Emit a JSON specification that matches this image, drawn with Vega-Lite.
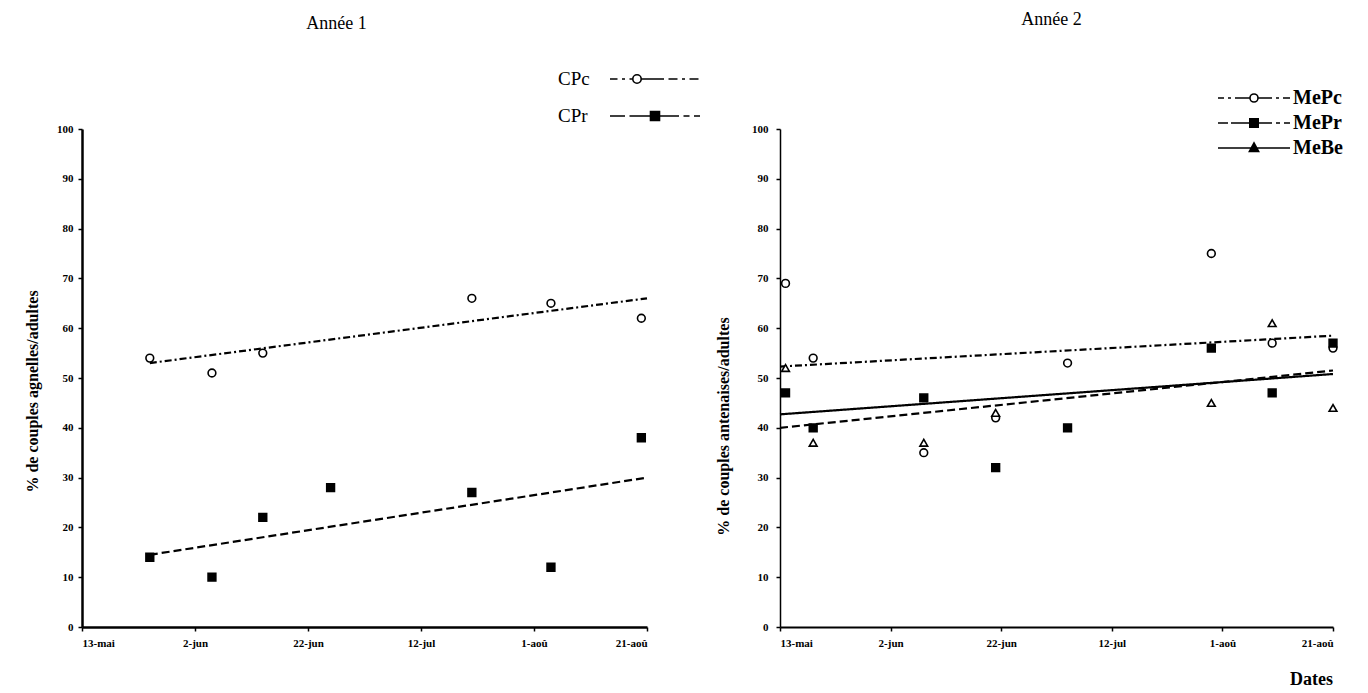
{
  "$schema": "https://vega.github.io/schema/vega-lite/v6.json",
  "background": "white",
  "padding": {"left": 24, "top": 11, "right": 5, "bottom": 5},
  "spacing": 133,
  "bounds": "flush",
  "resolve": {
    "scale": {"x": "independent", "y": "independent", "shape": "independent", "fill": "independent"},
    "legend": {"shape": "independent", "fill": "independent"}
  },
  "config": {
    "view": {"stroke": null},
    "font": "Liberation Serif",
    "axis": {
      "grid": false,
      "domainColor": "black",
      "tickColor": "black",
      "labelColor": "black",
      "titleColor": "black",
      "labelFont": "Liberation Serif",
      "labelFontWeight": "bold",
      "labelFontSize": 11,
      "titleFont": "Liberation Serif",
      "titleFontWeight": "bold",
      "titleFontSize": 16,
      "tickSize": 4,
      "tickWidth": 1.5,
      "domainWidth": 2
    },
    "title": {"font": "Liberation Serif", "fontWeight": "normal", "fontSize": 18, "color": "black"}
  },
  "datasets": {
    "points1": [
      {"serie": "CPc", "date": "2001-05-25", "valeur": 54},
      {"serie": "CPc", "date": "2001-06-05", "valeur": 51},
      {"serie": "CPc", "date": "2001-06-14", "valeur": 55},
      {"serie": "CPc", "date": "2001-07-21", "valeur": 66},
      {"serie": "CPc", "date": "2001-08-04", "valeur": 65},
      {"serie": "CPc", "date": "2001-08-20", "valeur": 62},
      {"serie": "CPr", "date": "2001-05-25", "valeur": 14},
      {"serie": "CPr", "date": "2001-06-05", "valeur": 10},
      {"serie": "CPr", "date": "2001-06-14", "valeur": 22},
      {"serie": "CPr", "date": "2001-06-26", "valeur": 28},
      {"serie": "CPr", "date": "2001-07-21", "valeur": 27},
      {"serie": "CPr", "date": "2001-08-04", "valeur": 12},
      {"serie": "CPr", "date": "2001-08-20", "valeur": 38}
    ],
    "lignes1": [
      {"serie": "CPc", "date": "2001-05-25", "valeur": 53},
      {"serie": "CPc", "date": "2001-08-21", "valeur": 66},
      {"serie": "CPr", "date": "2001-05-25", "valeur": 14.5},
      {"serie": "CPr", "date": "2001-08-21", "valeur": 30}
    ],
    "points2": [
      {"serie": "MePc", "date": "2001-05-14", "valeur": 69},
      {"serie": "MePc", "date": "2001-05-19", "valeur": 54},
      {"serie": "MePc", "date": "2001-06-08", "valeur": 35},
      {"serie": "MePc", "date": "2001-06-21", "valeur": 42},
      {"serie": "MePc", "date": "2001-07-04", "valeur": 53},
      {"serie": "MePc", "date": "2001-07-30", "valeur": 75},
      {"serie": "MePc", "date": "2001-08-10", "valeur": 57},
      {"serie": "MePc", "date": "2001-08-21", "valeur": 56},
      {"serie": "MePr", "date": "2001-05-14", "valeur": 47},
      {"serie": "MePr", "date": "2001-05-19", "valeur": 40},
      {"serie": "MePr", "date": "2001-06-08", "valeur": 46},
      {"serie": "MePr", "date": "2001-06-21", "valeur": 32},
      {"serie": "MePr", "date": "2001-07-04", "valeur": 40},
      {"serie": "MePr", "date": "2001-07-30", "valeur": 56},
      {"serie": "MePr", "date": "2001-08-10", "valeur": 47},
      {"serie": "MePr", "date": "2001-08-21", "valeur": 57},
      {"serie": "MeBe", "date": "2001-05-14", "valeur": 52},
      {"serie": "MeBe", "date": "2001-05-19", "valeur": 37},
      {"serie": "MeBe", "date": "2001-06-08", "valeur": 37},
      {"serie": "MeBe", "date": "2001-06-21", "valeur": 43},
      {"serie": "MeBe", "date": "2001-07-30", "valeur": 45},
      {"serie": "MeBe", "date": "2001-08-10", "valeur": 61},
      {"serie": "MeBe", "date": "2001-08-21", "valeur": 44}
    ],
    "lignes2": [
      {"serie": "MePc", "date": "2001-05-13", "valeur": 52.3},
      {"serie": "MePc", "date": "2001-08-21", "valeur": 58.5},
      {"serie": "MePr", "date": "2001-05-13", "valeur": 40},
      {"serie": "MePr", "date": "2001-08-21", "valeur": 51.5},
      {"serie": "MeBe", "date": "2001-05-13", "valeur": 42.7},
      {"serie": "MeBe", "date": "2001-08-21", "valeur": 50.8}
    ]
  },
  "hconcat": [
    {
      "width": 565,
      "height": 498,
      "title": {"text": "Année 1", "frame": "group", "dx": -28, "offset": 30},
      "layer": [
        {
          "data": {"name": "lignes1"},
          "mark": {"type": "line", "color": "black", "strokeWidth": 2.2},
          "encoding": {
            "x": {"field": "date", "type": "temporal",
              "scale": {"type": "utc", "nice": false, "domain": [{"year": 2001, "month": 5, "date": 13, "utc": true}, {"year": 2001, "month": 8, "date": 21, "utc": true}]},
              "axis": {"title": null, "domainWidth": 2.5, "labelPadding": 6,
                "values": [{"year": 2001, "month": 5, "date": 13, "utc": true}, {"year": 2001, "month": 6, "date": 2, "utc": true}, {"year": 2001, "month": 6, "date": 22, "utc": true}, {"year": 2001, "month": 7, "date": 12, "utc": true}, {"year": 2001, "month": 8, "date": 1, "utc": true}, {"year": 2001, "month": 8, "date": 21, "utc": true}],
                "labelExpr": "utcdate(datum.value) + '-' + ['jan','fév','mar','avr','mai','jun','jul','aoû','sep','oct','nov','déc'][utcmonth(datum.value)]"}},
            "y": {"field": "valeur", "type": "quantitative",
              "scale": {"domain": [0, 100], "nice": false},
              "axis": {"title": "% de couples agnelles/adultes", "values": [0, 10, 20, 30, 40, 50, 60, 70, 80, 90, 100], "domainWidth": 2.5, "labelPadding": 5, "titlePadding": 16, "titleY": 262}},
            "detail": {"field": "serie", "type": "nominal"},
            "strokeDash": {"condition": {"test": "datum.serie === 'CPr'", "value": [8, 4]}, "value": [7, 3, 2, 3]}
          }
        },
        {
          "data": {"name": "points1"},
          "mark": {"type": "point", "filled": true, "size": 60, "stroke": "black", "strokeWidth": 1.6, "opacity": 1},
          "encoding": {
            "x": {"field": "date", "type": "temporal"},
            "y": {"field": "valeur", "type": "quantitative"},
            "fill": {"condition": {"test": "datum.serie === 'CPr'", "value": "black"}, "value": "white"},
            "shape": {"condition": {"test": "datum.serie === 'CPr'", "value": "square"}, "value": "circle"}
          }
        },
        {
          "data": {"name": "points1"},
          "transform": [{"filter": "false"}],
          "mark": {"type": "point", "filled": true, "stroke": "black", "strokeWidth": 1.6, "opacity": 1},
          "encoding": {
            "x": {"field": "date", "type": "temporal"},
            "y": {"field": "valeur", "type": "quantitative"},
            "shape": {"field": "serie", "type": "nominal",
              "scale": {"domain": ["CPc", "CPr"], "range": ["M-3,0H-2.5M-2.2,0H-2M-1.7,0H-1.48M-0.92,0H0.6M0.9,0H1.5M1.8,0H2M2.3,0H2.9M-0.92,0A0.28,0.28 0 1,0 -1.48,0A0.28,0.28 0 1,0 -0.92,0", "M-3,0H-2M-1.7,0H-0.3M0.3,0H1.6M1.9,0H2.3M2.6,0H3M-0.3,-0.3H0.3V0.3H-0.3Z"]},
              "legend": {"title": null, "orient": "none", "legendX": 557, "legendY": -66, "padding": 0, "symbolSize": 900, "rowPadding": 11, "labelOffset": -113, "labelFont": "Liberation Serif", "labelFontSize": 19, "labelColor": "black", "symbolStrokeWidth": 1.6}},
            "fill": {"field": "serie", "type": "nominal",
              "scale": {"domain": ["CPc", "CPr"], "range": ["white", "black"]},
              "legend": {"title": null, "orient": "none", "legendX": 557, "legendY": -66, "padding": 0, "symbolSize": 900, "rowPadding": 11, "labelOffset": -113, "labelFont": "Liberation Serif", "labelFontSize": 19, "labelColor": "black", "symbolStrokeWidth": 1.6}}
          }
        }
      ]
    },
    {
      "width": 553,
      "height": 498,
      "title": {"text": "Année 2", "frame": "group", "dx": -5, "offset": 58},
      "layer": [
        {
          "data": {"name": "lignes2"},
          "mark": {"type": "line", "color": "black", "strokeWidth": 2.2},
          "encoding": {
            "x": {"field": "date", "type": "temporal",
              "scale": {"type": "utc", "nice": false, "domain": [{"year": 2001, "month": 5, "date": 13, "utc": true}, {"year": 2001, "month": 8, "date": 21, "utc": true}]},
              "axis": {"title": "Dates", "titleFontSize": 18, "titleX": 531, "titleY": 52, "titleAlign": "center", "titleBaseline": "middle", "domainWidth": 2, "labelPadding": 6,
                "values": [{"year": 2001, "month": 5, "date": 13, "utc": true}, {"year": 2001, "month": 6, "date": 2, "utc": true}, {"year": 2001, "month": 6, "date": 22, "utc": true}, {"year": 2001, "month": 7, "date": 12, "utc": true}, {"year": 2001, "month": 8, "date": 1, "utc": true}, {"year": 2001, "month": 8, "date": 21, "utc": true}],
                "labelExpr": "utcdate(datum.value) + '-' + ['jan','fév','mar','avr','mai','jun','jul','aoû','sep','oct','nov','déc'][utcmonth(datum.value)]"}},
            "y": {"field": "valeur", "type": "quantitative",
              "scale": {"domain": [0, 100], "nice": false},
              "axis": {"title": "% de couples antenaises/adultes", "values": [0, 10, 20, 30, 40, 50, 60, 70, 80, 90, 100], "domainWidth": 1.5, "labelPadding": 8, "titlePadding": 20, "titleY": 297}},
            "detail": {"field": "serie", "type": "nominal"},
            "strokeDash": {"condition": [{"test": "datum.serie === 'MePr'", "value": [8, 4]}, {"test": "datum.serie === 'MeBe'", "value": [1, 0]}], "value": [7, 3, 2, 3]}
          }
        },
        {
          "data": {"name": "points2"},
          "mark": {"type": "point", "filled": true, "size": 60, "stroke": "black", "strokeWidth": 1.6, "opacity": 1},
          "encoding": {
            "x": {"field": "date", "type": "temporal"},
            "y": {"field": "valeur", "type": "quantitative"},
            "fill": {"condition": {"test": "datum.serie === 'MePr'", "value": "black"}, "value": "white"},
            "shape": {"condition": [{"test": "datum.serie === 'MePr'", "value": "square"}, {"test": "datum.serie === 'MeBe'", "value": "triangle-up"}], "value": "circle"}
          }
        },
        {
          "data": {"name": "points2"},
          "transform": [{"filter": "false"}],
          "mark": {"type": "point", "filled": true, "stroke": "black", "strokeWidth": 1.6, "opacity": 1},
          "encoding": {
            "x": {"field": "date", "type": "temporal"},
            "y": {"field": "valeur", "type": "quantitative"},
            "shape": {"field": "serie", "type": "nominal",
              "scale": {"domain": ["MePc", "MePr", "MeBe"], "range": ["M-3.6,0H-3M-2.6,0H-2.3M-1.9,0H-0.4M0.4,0H1.8M2.2,0H2.5M2.9,0H3.6M0.4,0A0.4,0.4 0 1,0 -0.4,0A0.4,0.4 0 1,0 0.4,0", "M-3.6,0H-2.6M-2.3,0H-0.42M0.42,0H1.8M2.2,0H2.6M3,0H3.6M-0.42,-0.42H0.42V0.42H-0.42Z", "M-3.6,0H3.6M0,-0.5L0.46,0.34H-0.46Z"]},
              "legend": {"title": null, "orient": "none", "legendX": 463, "legendY": -42, "padding": 0, "symbolSize": 400, "rowPadding": 4, "labelOffset": 28, "labelFont": "Liberation Serif", "labelFontWeight": "bold", "labelFontSize": 20, "labelColor": "black", "symbolStrokeWidth": 1.6}},
            "fill": {"field": "serie", "type": "nominal",
              "scale": {"domain": ["MePc", "MePr", "MeBe"], "range": ["white", "black", "black"]},
              "legend": {"title": null, "orient": "none", "legendX": 463, "legendY": -42, "padding": 0, "symbolSize": 400, "rowPadding": 4, "labelOffset": 28, "labelFont": "Liberation Serif", "labelFontWeight": "bold", "labelFontSize": 20, "labelColor": "black", "symbolStrokeWidth": 1.6}}
          }
        }
      ]
    }
  ]
}
